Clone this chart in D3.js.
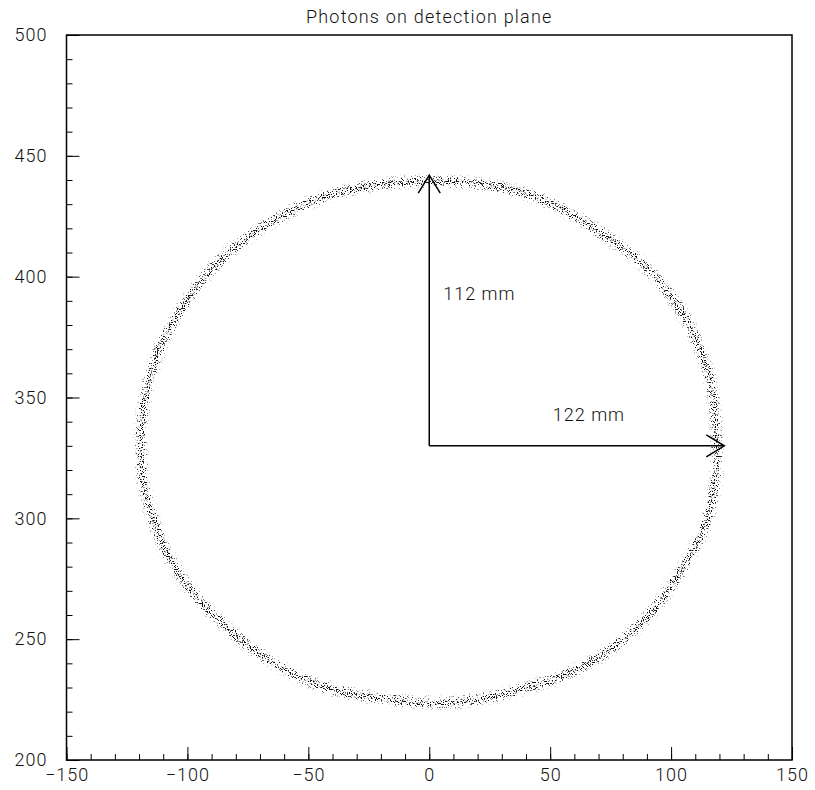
<!DOCTYPE html>
<html>
<head>
<meta charset="utf-8">
<script src="https://cdn.jsdelivr.net/npm/d3@7/dist/d3.min.js"></script>
<style>
  html, body { margin: 0; padding: 0; background: #fff; }
  svg { display: block; }
  text { font-family: Roboto, "Noto Sans", sans-serif; font-weight: 300; fill: #111; letter-spacing: 1px; }
</style>
</head>
<body>
<svg id="chart" width="815" height="790"></svg>
<script>
// Axis ranges and labelled ticks
const xDomain = [-150, 150];
const yDomain = [200, 500];
const xTickValues = [-150, -100, -50, 0, 50, 100, 150];
const yTickValues = [200, 250, 300, 350, 400, 450, 500];
const minorStep = 10;

// Centre line of the ring of photon hits (mm), going round anticlockwise from the right
const ringX = [118.9, 116.1, 110.6, 105.1, 96.8, 83.1, 41.7, 0, -40.9, -68.5, -89.1, -102.9, -112.5, -118.0,
               -119.4, -118.0, -111.2, -98.8, -82.2, -61.6, -40.9, -2.3, 14.2, 41.7, 69.3, 89.9, 102.3, 113.3, 118.2];
const ringY = [331, 357.5, 373.5, 384.5, 396.0, 409.5, 433.8, 439.5, 433.8, 420.7, 404.1, 386.2, 367.6, 347.2,
               331, 314.0, 291.5, 270.5, 253.5, 238.5, 229.5, 223.8, 224.3, 230.2, 242.0, 259.0, 275.5, 295.0, 314.5];

// Radius markers: origin, direction and length (mm)
const arrowOrigin = [0, 330];
const arrowDir = [[0, 1], [1, 0]];
const arrowLength = [112, 122];
const arrowLabel = ["112 mm", "122 mm"];
const labelX = [5.8, 51.1];
const labelY = [390.4, 340.1];

const title = "Photons on detection plane";

const W = 815, H = 790;
const plot = { left: 66.5, right: 792, top: 35, bottom: 760 };

const svg = d3.select("#chart");

const x = d3.scaleLinear().domain(xDomain).range([plot.left, plot.right]);
const y = d3.scaleLinear().domain(yDomain).range([plot.bottom, plot.top]);

// Speckle filter: blurred band gives the hit density, thresholded noise turns it into single dots
const defs = svg.append("defs");
const f = defs.append("filter")
  .attr("id", "speckle")
  .attr("filterUnits", "userSpaceOnUse")
  .attr("x", 0).attr("y", 0).attr("width", W).attr("height", H)
  .attr("color-interpolation-filters", "sRGB");
f.append("feGaussianBlur").attr("in", "SourceAlpha").attr("stdDeviation", 3).attr("result", "density");
f.append("feTurbulence").attr("type", "fractalNoise").attr("baseFrequency", 0.85)
  .attr("numOctaves", 2).attr("seed", 7).attr("result", "noise");
f.append("feColorMatrix").attr("in", "noise").attr("type", "matrix")
  .attr("values", "0 0 0 0 0  0 0 0 0 0  0 0 0 0 0  2.6 0 0 0 -0.8").attr("result", "grain");
f.append("feComposite").attr("in", "density").attr("in2", "grain").attr("operator", "arithmetic")
  .attr("k1", 0).attr("k2", 3.6).attr("k3", -3.6).attr("k4", 0).attr("result", "dots");
f.append("feColorMatrix").attr("in", "dots").attr("type", "matrix")
  .attr("values", "1 0 0 0 0  0 1 0 0 0  0 0 1 0 0  0 0 0 0.95 0");

// Ring of hits
const ring = ringX.map((v, i) => ({ x: v, y: ringY[i] }));
const ringLine = d3.line().x(d => x(d.x)).y(d => y(d.y)).curve(d3.curveCatmullRomClosed);
svg.append("g").attr("filter", "url(#speckle)")
  .append("path")
  .attr("d", ringLine(ring))
  .attr("fill", "none")
  .attr("stroke", "#000")
  .attr("stroke-width", 4);

// Minor ticks (inside the frame)
const minorX = d3.range(xDomain[0], xDomain[1] + 0.001, minorStep);
const minorY = d3.range(yDomain[0], yDomain[1] + 0.001, minorStep);

const fmt = d => d3.format("d")(d).replace("-", "\u2212");

svg.append("g").attr("transform", `translate(0,${plot.bottom})`)
  .call(d3.axisBottom(x).tickValues(minorX).tickSize(-6).tickSizeOuter(0).tickFormat(""))
  .call(g => g.select(".domain").remove());
svg.append("g").attr("transform", `translate(${plot.left},0)`)
  .call(d3.axisLeft(y).tickValues(minorY).tickSize(-6).tickSizeOuter(0).tickFormat(""))
  .call(g => g.select(".domain").remove());

// Major ticks with labels
svg.append("g").attr("transform", `translate(0,${plot.bottom})`)
  .call(d3.axisBottom(x).tickValues(xTickValues).tickSize(-13).tickSizeOuter(0).tickPadding(8).tickFormat(fmt))
  .call(g => g.select(".domain").remove());
svg.append("g").attr("transform", `translate(${plot.left},0)`)
  .call(d3.axisLeft(y).tickValues(yTickValues).tickSize(-13).tickSizeOuter(0).tickPadding(19).tickFormat(fmt))
  .call(g => g.select(".domain").remove());

svg.selectAll(".tick line").attr("stroke", "#000").attr("stroke-width", 1);
svg.selectAll(".tick text")
  .attr("font-family", "Roboto, 'Noto Sans', sans-serif")
  .attr("font-size", 18)
  .attr("fill", "#111");

// Frame
svg.append("rect")
  .attr("x", plot.left).attr("y", plot.top)
  .attr("width", plot.right - plot.left).attr("height", plot.bottom - plot.top)
  .attr("fill", "none").attr("stroke", "#000").attr("stroke-width", 1.5);

// Radius arrows with open heads
const headLen = 18, headHalf = 11;
const arrows = svg.append("g").attr("stroke", "#000").attr("stroke-width", 1.5).attr("fill", "none");
arrowDir.forEach((dir, i) => {
  const x0 = x(arrowOrigin[0]), y0 = y(arrowOrigin[1]);
  const x1 = x(arrowOrigin[0] + dir[0] * arrowLength[i]);
  const y1 = y(arrowOrigin[1] + dir[1] * arrowLength[i]);
  arrows.append("line").attr("x1", x0).attr("y1", y0).attr("x2", x1).attr("y2", y1);
  const len = Math.hypot(x1 - x0, y1 - y0);
  const ux = (x1 - x0) / len, uy = (y1 - y0) / len;
  const bx = x1 - ux * headLen, by = y1 - uy * headLen;
  arrows.append("path")
    .attr("d", `M${bx - uy * headHalf},${by + ux * headHalf}L${x1},${y1}L${bx + uy * headHalf},${by - ux * headHalf}`);
});

svg.append("g").selectAll("text")
  .data(arrowLabel)
  .join("text")
  .attr("x", (d, i) => x(labelX[i]))
  .attr("y", (d, i) => y(labelY[i]))
  .attr("font-size", 18)
  .text(d => d);

// Title
svg.append("text")
  .attr("x", x(0))
  .attr("y", 23)
  .attr("text-anchor", "middle")
  .attr("font-size", 18)
  .style("letter-spacing", "1.2px")
  .text(title);
</script>
</body>
</html>
